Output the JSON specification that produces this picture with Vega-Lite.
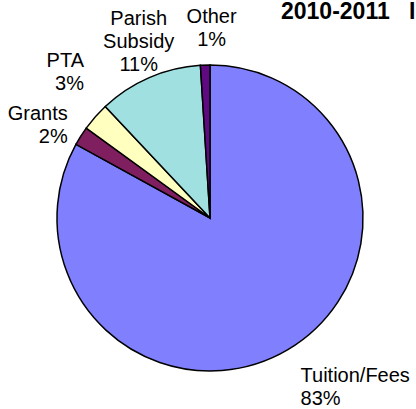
{
  "$schema": "https://vega.github.io/schema/vega-lite/v6.json",
  "width": 412,
  "height": 382,
  "autosize": {"type": "none"},
  "padding": {"left": 4, "top": 27, "right": 0, "bottom": 0},
  "background": "white",
  "view": {"stroke": null},
  "title": {
    "text": "2010-2011 \u00a0\u00a0Income",
    "anchor": "start",
    "frame": "group",
    "dx": 277,
    "offset": -35,
    "baseline": "alphabetic",
    "font": "Liberation Sans",
    "fontSize": 23,
    "fontWeight": "bold",
    "color": "black"
  },
  "data": {
    "values": [
      {"source": "Tuition/Fees", "value": 83, "label": ["Tuition/Fees", "83%"]},
      {"source": "Grants", "value": 2, "label": ["Grants", "2%"]},
      {"source": "PTA", "value": 3, "label": ["PTA", "3%"]},
      {"source": "Parish Subsidy", "value": 11, "label": ["Parish", "Subsidy", "11%"]},
      {"source": "Other", "value": 1, "label": ["Other", "1%"]}
    ]
  },
  "transform": [{"window": [{"op": "row_number", "as": "idx"}]}],
  "encoding": {
    "theta": {"field": "value", "type": "quantitative", "stack": true},
    "order": {"field": "idx", "type": "quantitative"}
  },
  "layer": [
    {
      "mark": {"type": "arc", "outerRadius": 153, "stroke": "black", "strokeWidth": 1.5},
      "encoding": {
        "color": {
          "field": "source",
          "type": "nominal",
          "scale": {
            "domain": ["Tuition/Fees", "Grants", "PTA", "Parish Subsidy", "Other"],
            "range": ["#8080FF", "#7F1F5F", "#FFFFC0", "#A0E0E0", "#5F0A80"]
          },
          "legend": null
        }
      }
    },
    {
      "mark": {
        "type": "text",
        "radius": 172,
        "font": "Liberation Sans",
        "fontSize": 20,
        "lineHeight": 23,
        "color": "black",
        "align": {"expr": "datum.source === 'Tuition/Fees' ? 'left' : (datum.source === 'Grants' || datum.source === 'PTA') ? 'right' : 'center'"},
        "baseline": {"expr": "datum.source === 'Tuition/Fees' ? 'top' : datum.source === 'Grants' ? 'middle' : 'bottom'"},
        "dx": {"expr": "datum.source === 'Other' ? 7 : datum.source === 'Parish Subsidy' ? -3 : 3"},
        "dy": {"expr": "datum.source === 'Tuition/Fees' ? 0 : datum.source === 'Grants' ? -11.5 : datum.source === 'PTA' ? -33 : datum.source === 'Parish Subsidy' ? -31 : -19"}
      },
      "encoding": {"text": {"field": "label"}}
    }
  ]
}
